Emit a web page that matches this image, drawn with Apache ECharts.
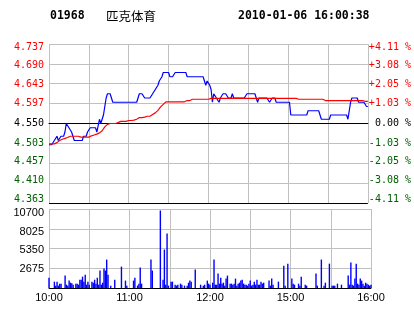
<!DOCTYPE html>
<html><head><meta charset="utf-8">
<script src="https://cdn.jsdelivr.net/npm/echarts@6/dist/echarts.min.js"></script>
<style>html,body{margin:0;padding:0;background:#fff}#c{width:414px;height:314px}</style>
</head><body><div id="c"></div>
<script>
// ---- header texts ----
const stockCode = '01968';
const stockName = '匹克体育';
const stamp = '2010-01-06 16:00:38';

// ---- axis ranges / tick labels ----
const priceMin = 4.363, priceMax = 4.737, priceStep = 0.04675;
const pctMin = -4.11, pctMax = 4.11, pctStep = 1.0275;
const volMin = 0, volMax = 10700, volStep = 2675;
const priceLabels = ['4.363','4.410','4.457','4.503','4.550','4.597','4.643','4.690','4.737'];
const pctLabels = ['-4.11 %','-3.08 %','-2.05 %','-1.03 %',' 0.00 %','+1.03 %','+2.05 %','+3.08 %','+4.11 %'];
const volLabels = ['','2675','5350','8025','10700'];
const timeTickIndex = [0, 60, 120, 180, 240];
const timeTickLabels = ['10:00','11:00','12:00','15:00','16:00'];

// ---- categories: trading minutes (10:00-12:30, 14:30-16:00) ----
const times = [];
for (let i = 0; i <= 240; i++) {
  const m = i <= 150 ? 600 + i : 870 + (i - 150);
  times.push(String(Math.floor(m / 60)).padStart(2, '0') + ':' + String(m % 60).padStart(2, '0'));
}

// ---- series values ----
const price = [
4.50,4.50,4.50,4.50,4.51,4.51,4.52,4.51,4.51,4.52,
4.52,4.52,4.53,4.55,4.55,4.54,4.54,4.53,4.52,4.51,
4.51,4.51,4.51,4.51,4.51,4.51,4.52,4.52,4.52,4.53,
4.53,4.54,4.54,4.54,4.54,4.54,4.53,4.53,4.56,4.55,
4.55,4.57,4.59,4.61,4.62,4.62,4.62,4.61,4.60,4.60,
4.60,4.60,4.60,4.60,4.60,4.60,4.60,4.60,4.60,4.60,
4.60,4.60,4.60,4.60,4.60,4.60,4.60,4.60,4.62,4.62,
4.62,4.62,4.61,4.61,4.61,4.61,4.61,4.61,4.62,4.62,
4.63,4.63,4.64,4.65,4.65,4.66,4.67,4.67,4.67,4.67,
4.67,4.66,4.66,4.66,4.66,4.67,4.67,4.67,4.67,4.67,
4.67,4.67,4.67,4.67,4.66,4.66,4.66,4.66,4.66,4.66,
4.66,4.66,4.66,4.66,4.66,4.66,4.66,4.65,4.64,4.65,
4.65,4.64,4.63,4.60,4.62,4.62,4.61,4.61,4.60,4.61,
4.61,4.62,4.62,4.62,4.62,4.61,4.61,4.61,4.62,4.61,
4.61,4.61,4.61,4.61,4.61,4.61,4.61,4.61,4.61,4.62,
4.62,4.62,4.62,4.62,4.62,4.62,4.61,4.60,4.61,4.61,
4.61,4.61,4.61,4.61,4.61,4.61,4.60,4.60,4.61,4.61,
4.61,4.60,4.60,4.60,4.60,4.60,4.60,4.60,4.60,4.60,
4.60,4.60,4.57,4.57,4.57,4.57,4.57,4.57,4.57,4.57,
4.57,4.57,4.57,4.57,4.57,4.58,4.58,4.58,4.58,4.58,
4.58,4.58,4.58,4.58,4.58,4.56,4.56,4.56,4.56,4.56,
4.56,4.56,4.57,4.57,4.57,4.57,4.57,4.57,4.57,4.57,
4.57,4.57,4.57,4.57,4.57,4.56,4.58,4.60,4.61,4.61,
4.61,4.61,4.61,4.60,4.60,4.60,4.60,4.60,4.60,4.59,
4.59
];
const avgPrice = [
4.502,4.502,4.502,4.502,4.502,4.502,4.505,4.508,4.510,4.512,
4.513,4.514,4.515,4.516,4.517,4.519,4.520,4.520,4.520,4.520,
4.520,4.520,4.520,4.520,4.518,4.518,4.518,4.518,4.518,4.518,
4.518,4.520,4.521,4.522,4.523,4.524,4.525,4.526,4.528,4.530,
4.533,4.537,4.542,4.546,4.548,4.549,4.550,4.550,4.550,4.550,
4.550,4.552,4.552,4.552,4.555,4.555,4.555,4.555,4.555,4.557,
4.557,4.557,4.557,4.558,4.558,4.558,4.560,4.562,4.564,4.564,
4.564,4.565,4.565,4.565,4.567,4.567,4.567,4.569,4.571,4.573,
4.575,4.578,4.581,4.585,4.589,4.592,4.595,4.598,4.601,4.601,
4.601,4.601,4.601,4.601,4.601,4.601,4.601,4.601,4.601,4.601,
4.601,4.601,4.601,4.601,4.604,4.604,4.604,4.604,4.607,4.607,
4.607,4.607,4.607,4.607,4.607,4.607,4.607,4.607,4.607,4.607,
4.607,4.609,4.609,4.609,4.609,4.609,4.609,4.609,4.609,4.609,
4.609,4.609,4.609,4.609,4.609,4.609,4.609,4.609,4.609,4.609,
4.609,4.609,4.609,4.609,4.609,4.609,4.609,4.609,4.609,4.609,
4.609,4.609,4.609,4.609,4.609,4.609,4.609,4.609,4.609,4.609,
4.609,4.609,4.609,4.609,4.609,4.609,4.609,4.609,4.609,4.609,
4.609,4.609,4.609,4.609,4.609,4.609,4.609,4.609,4.609,4.609,
4.609,4.609,4.609,4.609,4.609,4.609,4.609,4.607,4.607,4.607,
4.607,4.607,4.607,4.607,4.607,4.607,4.607,4.607,4.607,4.607,
4.607,4.607,4.607,4.607,4.607,4.607,4.607,4.607,4.604,4.604,
4.604,4.604,4.604,4.604,4.604,4.604,4.604,4.604,4.604,4.604,
4.604,4.604,4.604,4.604,4.604,4.604,4.604,4.604,4.604,4.604,
4.604,4.604,4.604,4.604,4.604,4.604,4.604,4.602,4.602,4.602,
4.602
];
const volume = [
1400,0,0,0,860,320,860,320,590,590,
0,0,1680,450,320,1000,720,630,450,0,
590,590,450,1130,1130,1540,860,1810,450,860,
450,0,860,720,1130,590,1400,450,2360,450,
720,2630,2360,3850,1810,0,320,0,0,1130,
0,0,0,0,2900,0,0,1000,320,0,
0,0,0,1000,1400,0,320,590,2760,590,
0,0,0,0,0,0,3850,2360,0,0,
0,0,0,10500,0,1130,5210,450,7380,320,
0,860,860,0,450,320,450,0,590,450,
0,320,0,320,720,1000,860,0,0,2490,
0,0,0,450,0,320,450,0,1000,590,
450,0,720,3850,450,450,1950,590,1400,590,
720,320,1270,1680,0,590,590,450,590,1270,
320,590,720,1000,1130,590,450,450,320,590,
1000,320,450,860,450,1130,450,450,860,590,
720,0,0,0,1000,320,1270,450,0,0,
0,860,0,0,0,3030,320,0,3300,0,
0,1270,590,450,0,0,590,320,1540,0,
0,450,320,0,0,0,0,0,0,1950,
320,0,0,3850,0,320,720,0,0,3300,
0,320,320,320,0,590,0,0,450,0,
0,0,0,1680,450,3440,450,320,1270,3300,
590,450,1270,1000,590,320,720,590,450,320,
450
];

// ---- styles ----
const GRID = '#c0c0c0', RED = '#ff0000', GREEN = '#006000', BLUE = '#0000ff';
const MONO = '"DejaVu Sans Mono", monospace';
const SANS = '"Liberation Sans", Arial, sans-serif';
const priceShift = [-3.5, -3, -1.5, 0, 0, 0, 1, 2, 3.5];
const volShift = [0, 0.7, 1.7, 3, 4];
function pad(s) { return s >= 0 ? [2 * s, 0, 0, 0] : [0, 0, -2 * s, 0]; }
function tone(i) { return i < 4 ? GREEN : (i === 4 ? '#000' : RED); }
const priceRich = {}, pctRich = {}, volRich = {};
priceLabels.forEach((_, i) => {
  priceRich['p' + i] = { color: tone(i), fontFamily: MONO, fontSize: 10, padding: pad(priceShift[i]) };
  pctRich['q' + i] = { color: tone(i), fontFamily: MONO, fontSize: 10, padding: pad(priceShift[i]) };
});
volLabels.forEach((_, i) => {
  volRich['v' + i] = { color: '#000', fontFamily: SANS, fontSize: 11, padding: pad(volShift[i]) };
});
const hSplit = ['#000', GRID, GRID, GRID, '#000', GRID, GRID, GRID, GRID];
const vSplit = ['#000', GRID, GRID, GRID, GRID];
const isGridTick = (i) => i % 30 === 0;

const chart = echarts.init(document.getElementById('c'), null, { renderer: 'canvas' });
chart.setOption({
  animation: false,
  backgroundColor: '#fff',
  graphic: [
    { type: 'text', x: 50, y: 16, style: { text: stockCode, font: 'bold 11.5px ' + MONO, fill: '#000', verticalAlign: 'middle' } },
    { type: 'text', x: 106, y: 16, style: { text: stockName, font: '12.5px "Noto Sans CJK SC"', fill: '#000', verticalAlign: 'middle' } },
    { type: 'text', x: 238, y: 16, style: { text: stamp, font: 'bold 11.5px ' + MONO, fill: '#000', verticalAlign: 'middle' } }
  ],
  grid: [
    { left: 49, right: 43, top: 44, height: 159 },
    { left: 49, right: 43, top: 209, height: 79 }
  ],
  xAxis: [
    { gridIndex: 0, type: 'category', data: times, boundaryGap: false,
      axisLine: { show: true, lineStyle: { color: '#000', width: 1 } },
      axisTick: { show: false }, axisLabel: { show: false },
      splitLine: { show: true, interval: isGridTick, lineStyle: { color: GRID, width: 1 } } },
    { gridIndex: 1, type: 'category', data: times, boundaryGap: false,
      axisLine: { show: true, lineStyle: { color: '#000', width: 1 } },
      axisTick: { show: false },
      axisLabel: { show: true, margin: 4, color: '#000', fontFamily: SANS, fontSize: 11,
        interval: (i) => timeTickIndex.indexOf(i) >= 0,
        formatter: (v, i) => { const k = timeTickIndex.indexOf(i); return k >= 0 ? timeTickLabels[k] : ''; } },
      splitLine: { show: true, interval: isGridTick, lineStyle: { color: GRID, width: 1 } } }
  ],
  yAxis: [
    { gridIndex: 0, type: 'value', min: priceMin, max: priceMax, interval: priceStep, position: 'left',
      axisLine: { show: false }, axisTick: { show: false },
      splitLine: { show: true, lineStyle: { color: hSplit, width: 1 } },
      axisLabel: { margin: 5, formatter: (v, i) => '{p' + i + '|' + priceLabels[i] + '}', rich: priceRich } },
    { gridIndex: 0, type: 'value', min: pctMin, max: pctMax, interval: pctStep, position: 'right',
      axisLine: { show: false }, axisTick: { show: false }, splitLine: { show: false },
      axisLabel: { margin: 1, formatter: (v, i) => '{q' + i + '|' + pctLabels[i] + '}', rich: pctRich } },
    { gridIndex: 1, type: 'value', min: volMin, max: volMax, interval: volStep, position: 'left',
      axisLine: { show: false }, axisTick: { show: false },
      splitLine: { show: true, lineStyle: { color: vSplit, width: 1 } },
      axisLabel: { margin: 5, formatter: (v, i) => volLabels[i] ? '{v' + i + '|' + volLabels[i] + '}' : '', rich: volRich } }
  ],
  series: [
    { name: 'price', type: 'line', xAxisIndex: 0, yAxisIndex: 0, data: price, showSymbol: false, symbol: 'none',
      lineStyle: { color: BLUE, width: 1.2 }, itemStyle: { color: BLUE }, z: 3 },
    { name: 'avg', type: 'line', xAxisIndex: 0, yAxisIndex: 0, data: avgPrice, showSymbol: false, symbol: 'none',
      lineStyle: { color: RED, width: 1.2 }, itemStyle: { color: RED }, z: 4 },
    { name: 'volume', type: 'bar', xAxisIndex: 1, yAxisIndex: 2, data: volume, barWidth: 1.4,
      itemStyle: { color: BLUE } }
  ]
});
</script>
</body></html>
